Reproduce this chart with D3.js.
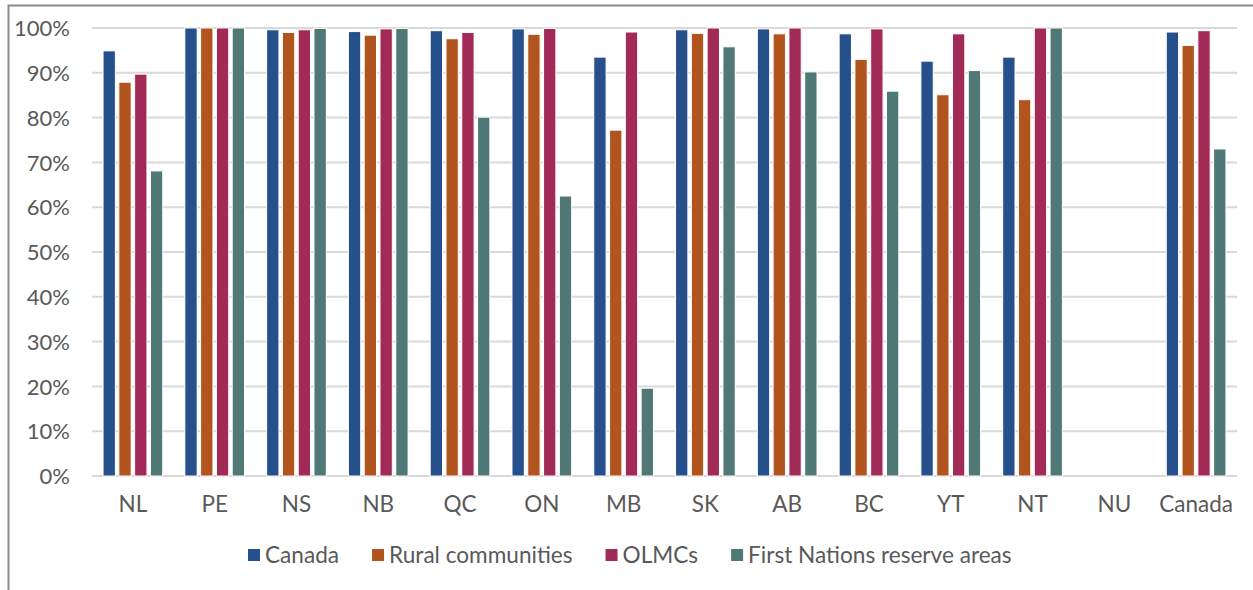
<!DOCTYPE html>
<html>
<head>
<meta charset="utf-8">
<script src="https://cdn.jsdelivr.net/npm/d3@7"></script>
<style>
  body { margin: 0; background: #fff; }
  text { font-family: Lato, "Open Sans", sans-serif; fill: #595959; }
</style>
</head>
<body>
<div id="chart"></div>
<script>
// data (percent)
var provinces = ["NL", "PE", "NS", "NB", "QC", "ON", "MB", "SK", "AB", "BC", "YT", "NT", "NU", "Canada"];
var seriesNames = ["Canada", "Rural communities", "OLMCs", "First Nations reserve areas"];
var canadaVals = [94.9, 100, 99.6, 99.2, 99.4, 99.8, 93.5, 99.6, 99.8, 98.7, 92.6, 93.5, null, 99.1];
var ruralVals  = [87.9, 100, 99.0, 98.4, 97.6, 98.6, 77.2, 98.8, 98.7, 93.0, 85.1, 84.0, null, 96.1];
var olmcVals   = [89.7, 100, 99.6, 99.8, 99.0, 99.9, 99.1, 100, 100, 99.8, 98.7, 100, null, 99.4];
var fnVals     = [68.1, 100, 99.9, 99.9, 80.1, 62.5, 19.6, 95.8, 90.2, 85.9, 90.5, 100, null, 73.0];
var yTicks = [0, 10, 20, 30, 40, 50, 60, 70, 80, 90, 100];
var colors = ["#25508b", "#b2541e", "#a22a56", "#507877"];

var allSeries = [canadaVals, ruralVals, olmcVals, fnVals];

var W = 1253, H = 590;
var margin = { top: 28, right: 16, bottom: 114, left: 92 },
    width = W - margin.left - margin.right,
    height = H - margin.top - margin.bottom;

var svg = d3.select("#chart")
    .append("svg")
    .attr("width", W)
    .attr("height", H);

// chart border (only top and left visible in the crop)
svg.append("rect")
    .attr("x", 8.5)
    .attr("y", 5.5)
    .attr("width", W + 20)
    .attr("height", H + 20)
    .attr("fill", "none")
    .attr("stroke", "#8c8c8c")
    .attr("stroke-width", 2);

var g = svg.append("g")
    .attr("transform", "translate(" + margin.left + "," + margin.top + ")");

var x = d3.scaleBand().domain(provinces).range([0, width]).paddingInner(0).paddingOuter(0);
var xs = d3.scaleBand().domain(seriesNames).range([0, x.bandwidth()]).paddingInner(0.22).paddingOuter(0.7);
var y = d3.scaleLinear().domain([0, 100]).range([height, 0]);

// gridlines
g.append("g")
    .selectAll("line")
    .data(yTicks)
    .enter()
    .append("line")
    .attr("x1", 0)
    .attr("x2", width)
    .attr("y1", d => y(d))
    .attr("y2", d => y(d))
    .attr("stroke", "#d9d9d9")
    .attr("stroke-width", 2);

// y axis labels
var yAxis = d3.axisLeft(y).tickValues(yTicks).tickFormat(d => d + "%").tickSize(0).tickPadding(22);
var ya = g.append("g").call(yAxis);
ya.select(".domain").remove();
ya.selectAll("text").style("font-size", "22px").attr("fill", "#595959").attr("dy", "0.35em");

// x axis labels
var xAxis = d3.axisBottom(x).tickSize(0).tickPadding(20);
var xa = g.append("g").attr("transform", "translate(0," + height + ")").call(xAxis);
xa.select(".domain").remove();
xa.selectAll("text").style("font-size", "22.5px").attr("fill", "#595959").attr("dy", "0.71em");

// bars
var groups = g.selectAll(".grp")
    .data(provinces)
    .enter()
    .append("g")
    .attr("class", "grp")
    .attr("transform", d => "translate(" + x(d) + ",0)");

groups.selectAll("rect")
    .data((d, i) => seriesNames.map((s, j) => ({ s: s, j: j, v: allSeries[j][i] })).filter(e => e.v != null))
    .enter()
    .append("rect")
    .attr("x", d => xs(d.s))
    .attr("y", d => y(d.v))
    .attr("width", xs.bandwidth())
    .attr("height", d => height - y(d.v))
    .attr("fill", d => colors[d.j])
    .attr("stroke", "#fff")
    .attr("stroke-width", 1);

// legend
var legend = svg.append("g").attr("transform", "translate(248,563)");
var lx = 0;
seriesNames.forEach(function (name, i) {
    var item = legend.append("g").attr("transform", "translate(" + lx + ",0)");
    item.append("rect")
        .attr("x", 0)
        .attr("y", -14)
        .attr("width", 12)
        .attr("height", 12)
        .attr("fill", colors[i]);
    var t = item.append("text")
        .attr("x", 17)
        .attr("y", 0)
        .style("font-size", "22.6px")
        .text(name);
    lx += 17 + t.node().getComputedTextLength() + 33;
});
</script>
</body>
</html>
